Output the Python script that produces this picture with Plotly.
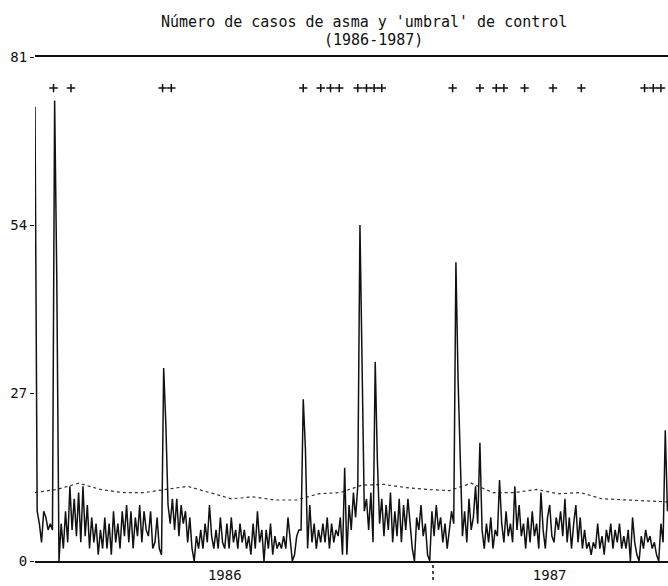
import plotly.graph_objects as go

# daily asthma cases, sampled every 2 days from 1986-01-01 (day 0)
cases = [
    73, 8, 6, 3, 8, 7, 5, 6, 5, 74,
    45, 0, 6, 2, 8, 3, 12, 5, 10, 4,
    11, 3, 12, 4, 9, 2, 7, 3, 6, 1,
    5, 2, 7, 2, 6, 1, 8, 3, 6, 2,
    8, 4, 9, 3, 8, 2, 7, 4, 9, 3,
    8, 5, 4, 8, 2, 3, 7, 2, 1, 31,
    22, 9, 6, 10, 5, 10, 4, 9, 6, 8,
    3, 7, 2, 0, 4, 2, 5, 2, 6, 3,
    9, 4, 2, 5, 2, 7, 3, 2, 6, 2,
    7, 3, 5, 2, 6, 3, 5, 2, 4, 1,
    6, 2, 8, 3, 5, 0, 5, 2, 6, 1,
    4, 2, 3, 2, 4, 2, 7, 3, 0, 1,
    4, 5, 5, 26, 18, 2, 9, 3, 6, 2,
    5, 3, 6, 3, 7, 2, 6, 3, 5, 4,
    7, 1, 15, 1, 9, 5, 11, 7, 12, 54,
    32, 8, 10, 5, 11, 3, 32, 16, 6, 10,
    4, 9, 5, 11, 3, 8, 4, 10, 3, 9,
    5, 10, 6, 2, 0, 7, 5, 9, 4, 6,
    1, 0, 8, 4, 9, 5, 7, 3, 6, 2,
    5, 8, 6, 48, 29, 14, 4, 8, 3, 10,
    5, 7, 12, 6, 19, 5, 2, 6, 3, 7,
    2, 5, 4, 13, 6, 3, 8, 4, 6, 3,
    12, 5, 9, 4, 6, 2, 7, 3, 8, 4,
    6, 2, 11, 5, 2, 7, 9, 4, 3, 7,
    5, 8, 4, 10, 3, 7, 2, 6, 9, 3,
    7, 2, 5, 2, 3, 1, 3, 2, 6, 2,
    4, 1, 5, 3, 6, 2, 5, 3, 6, 2,
    4, 2, 5, 0, 7, 3, 1, 0, 4, 2,
    5, 3, 4, 2, 3, 1, 0, 6, 3, 21, 8,
]
case_days = [2 * i for i in range(len(cases))]

# control threshold ('umbral'), every 20 days
threshold = [11, 11.5, 12.5, 11.5, 11, 11, 11.5, 12, 11, 10,
             10.3, 9.8, 9.8, 10.8, 11, 12.2, 12.3, 11.8, 11.5, 11.3,
             12.5, 11, 11, 11.5, 10.8, 11, 10, 9.8, 9.7, 9.5]
threshold_days = [20 * i for i in range(len(threshold))]

# days flagged as above threshold (alarm '+')
alarm_days = [17, 33, 117, 125, 246, 262, 271, 279, 296, 304, 311, 318,
              383, 408, 423, 430, 449, 475, 501, 559, 567, 574]
alarm_level = 76

y_ticks = [0, 27, 54, 81]
year_pos = [174, 472]
year_labels = ["1986", "1987"]
year_boundary = 365

FONT = "DejaVu Sans Mono"
INK = "#111111"

fig = go.Figure()
fig.add_trace(go.Scatter(x=threshold_days, y=threshold, mode="lines",
                         line=dict(color="#333333", width=1.2, dash="dot"),
                         hoverinfo="skip"))
fig.add_trace(go.Scatter(x=case_days, y=cases, mode="lines",
                         line=dict(color=INK, width=1.5)))
fig.add_trace(go.Scatter(x=alarm_days, y=[alarm_level] * len(alarm_days),
                         mode="markers",
                         marker=dict(symbol="cross-thin", size=6,
                                     line=dict(color=INK, width=1.5))))

fig.add_shape(type="line", xref="x", yref="paper",
              x0=year_boundary, x1=year_boundary, y0=-0.008, y1=-0.038,
              line=dict(color=INK, width=1.5, dash="dot"))

fig.add_annotation(text="Número de casos de asma y 'umbral' de control",
                   xref="paper", yref="paper", x=0.52, y=1.069,
                   xanchor="center", yanchor="middle", showarrow=False,
                   font=dict(family=FONT, size=15, color=INK))
fig.add_annotation(text="(1986-1987)",
                   xref="paper", yref="paper", x=0.535, y=1.034,
                   xanchor="center", yanchor="middle", showarrow=False,
                   font=dict(family=FONT, size=15, color=INK))

fig.update_layout(
    width=668, height=586,
    margin=dict(l=35, r=0, t=57, b=25),
    paper_bgcolor="white", plot_bgcolor="white",
    showlegend=False,
    font=dict(family=FONT, size=14, color=INK),
    xaxis=dict(range=[0, 580.5], showgrid=False, zeroline=False,
               showline=True, mirror=True, linecolor=INK, linewidth=1.5,
               tickmode="array", tickvals=year_pos, ticktext=year_labels,
               ticks="", automargin=False,
               tickfont=dict(family=FONT, size=14)),
    yaxis=dict(range=[0, 81], showgrid=False, zeroline=False, showline=False,
               tickmode="array", tickvals=y_ticks, ticks="outside", ticklen=4,
               tickcolor=INK, automargin=False,
               tickfont=dict(family=FONT, size=14)),
)

fig.write_html(
    "out.html",
    config={"displayModeBar": False},
    post_script="document.body.style.margin='0';document.body.style.overflow='hidden';",
)
